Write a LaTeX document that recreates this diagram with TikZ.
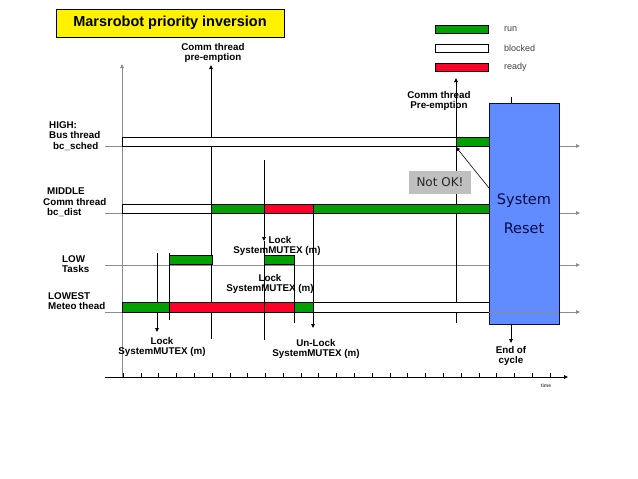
\documentclass[tikz,border=0pt]{standalone}
\usepackage{fontspec}
\setmainfont{Liberation Sans}
\newfontfamily\dejavu{DejaVu Sans}
\usetikzlibrary{arrows.meta}
\definecolor{runcol}{RGB}{0,160,0}
\definecolor{readycol}{RGB}{255,0,40}
\definecolor{resetcol}{RGB}{96,140,255}
\definecolor{navy}{RGB}{10,10,70}
\definecolor{axiscol}{RGB}{140,140,140}

\begin{document}
\begin{tikzpicture}[x=1pt,y=-1pt,
    lbl/.style={font=\fontsize{9.8}{10.5}\selectfont\bfseries, inner sep=0pt, align=center, anchor=north},
    lname/.style={lbl, align=left, anchor=north west},
    legtxt/.style={font=\fontsize{9}{10}\selectfont, text=black!75, anchor=west, inner sep=0pt},
    legbox/.style={minimum width=53pt, minimum height=8pt, inner sep=0pt, anchor=north west},
    runbar/.style={draw, line width=0.8pt, fill=runcol},
    blockbar/.style={draw, line width=0.8pt, fill=white},
    readybar/.style={draw, line width=0.8pt, fill=readycol},
    arr/.style={line width=0.9pt, -{Triangle[length=4pt,width=3.5pt]}},
    vline/.style={line width=0.9pt},
    axis/.style={axiscol, line width=0.8pt, -{Triangle[length=4pt,width=3.5pt]}}]

\useasboundingbox[fill=white] (0,0) rectangle (638,479);

% Title and legend
\node[draw, line width=0.8pt, fill=yellow, minimum width=228pt, minimum height=28pt,
      font=\fontsize{14.5}{16}\selectfont\bfseries] (title) at (170,23) {Marsrobot priority inversion};
\node[legbox, runbar] (legrun) at (435,25) {};
\node[legbox, blockbar] (legblk) at (435,44) {};
\node[legbox, readybar] (legrdy) at (435,63) {};
\node[legtxt] (txtrun) at ([xshift=15pt]legrun.east) {run};
\node[legtxt] (txtblk) at ([xshift=15pt]legblk.east) {blocked};
\node[legtxt] (txtrdy) at ([xshift=15pt]legrdy.east) {ready};

% Thread names
\node[lname] (lhigh) at (49,121) {HIGH:\\Bus thread\\\hspace*{4pt}bc\_sched};
\node[lname] (lmid) at (43,188) {\hspace*{4pt}MIDDLE\\Comm thread\\\hspace*{4pt}bc\_dist};
\node[lname] (llow) at (62,255) {LOW\\Tasks};
\node[lname] (llowest) at (48,292) {LOWEST\\Meteo thead};

% Time lines of the threads
\coordinate (high) at (105,146);
\coordinate (mid) at (105,213);
\coordinate (low) at (105,265);
\coordinate (lowest) at (105,312);
\coordinate (yorig) at (122,377);
\coordinate (ytop) at (122,64);
\draw[axis] (high) -- ++(475,0);
\draw[axis] (mid) -- ++(475,0);
\draw[axis] (low) -- ++(475,0);
\draw[axis] (lowest) -- ++(475,0);
\draw[axis] (yorig) -- (ytop);

% Events
\coordinate (lk1a) at (157,253);  \coordinate (lk1b) at (157,332);
\coordinate (tk1a) at (169,253);  \coordinate (tk1b) at (169,320);
\coordinate (pre1) at (211,65);   \coordinate (pre1b) at (211,339);
\coordinate (lk2a) at (264,160);  \coordinate (lk2) at (264,241);  \coordinate (lk2b) at (264,340);
\coordinate (tk2a) at (294,255);  \coordinate (tk2b) at (294,323);
\coordinate (unl) at (313,213);   \coordinate (unlb) at (313,328);
\coordinate (pre2) at (456,78);   \coordinate (pre2b) at (456,323);
\draw[arr] (lk1a) -- (lk1b);
\draw[vline] (tk1a) -- (tk1b);
\draw[arr] (pre1b) -- (pre1);
\draw[arr] (lk2a) -- (lk2);
\draw[vline] (lk2) -- (lk2b);
\draw[vline] (tk2a) -- (tk2b);
\draw[arr] (unl) -- (unlb);
\draw[arr] (pre2b) -- (pre2);

\node[lbl] (lbpre1) at (213,43) {Comm thread\\pre-emption};
\node[lbl] (lbpre2) at (439,91) {Comm thread\\Pre-emption};
\node[lbl] (lblk1) at (162,337) {Lock\\SystemMUTEX (m)};
\node[lbl] (lblk2) at (277,236) {\hspace*{6pt}Lock\\SystemMUTEX (m)};
\node[lbl] (lblk3) at (270,274) {Lock\\SystemMUTEX (m)};
\node[lbl] (lbunl) at (316,339) {Un-Lock\\SystemMUTEX (m)};

% Bars: run / blocked / ready
\draw[blockbar] (122,137) rectangle (456,146);
\draw[runbar]   (456,137) rectangle (489,146);
\draw[blockbar] (122,204) rectangle (211,213);
\draw[runbar]   (211,204) rectangle (264,213);
\draw[readybar] (264,204) rectangle (313,213);
\draw[runbar]   (313,204) rectangle (489,213);
\draw[runbar]   (169,255) rectangle (212,264);
\draw[runbar]   (264,255) rectangle (294,264);
\draw[runbar]   (122,302) rectangle (169,312);
\draw[readybar] (169,302) rectangle (264,312);
\draw[readybar] (264,302) rectangle (294,312);
\draw[runbar]   (294,302) rectangle (313,312);
\draw[blockbar] (313,302) rectangle (489,312);

% System reset
\node[draw=navy, line width=0.8pt, fill=resetcol, minimum width=70pt, minimum height=221pt, inner sep=0pt,
      font=\dejavu\fontsize{14.5}{29}\selectfont, text=navy, align=center] (reset) at (524,213.5) {System\\Reset};
\draw[axiscol, line width=0.8pt] (reset.west |- lowest) -- (reset.east |- lowest); % shows through the box
\coordinate (rtick) at (511,97);
\draw[vline] (rtick) -- (rtick |- reset.north);
\node[lbl] (eoc) at (511,346) {End of\\cycle};
\draw[arr] (rtick |- reset.south) -- ([yshift=3pt]eoc.north);

% Not OK
\node[fill=black!25, minimum width=62pt, minimum height=23pt, inner sep=0pt,
      font=\dejavu\fontsize{12}{14}\selectfont, text=black!85] (notok) at (440,182.5) {Not OK!};
\coordinate (nok1) at (489,188);
\coordinate (nok2) at (456,147);
\draw[arr, line width=0.6pt] (nok1) -- (nok2);

% Time axis
\coordinate (t0) at (105,377);
\coordinate (t1) at (568,377);
\draw[arr] (t0) -- (t1);
\foreach \i in {0,...,24}
    \draw[line width=0.8pt] (123.3+17.78*\i,377) -- ++(0,-4);
\node[font=\fontsize{5}{6}\selectfont\bfseries, text=black!70] (timelbl) at (546,386) {time};
\end{tikzpicture}
\end{document}
